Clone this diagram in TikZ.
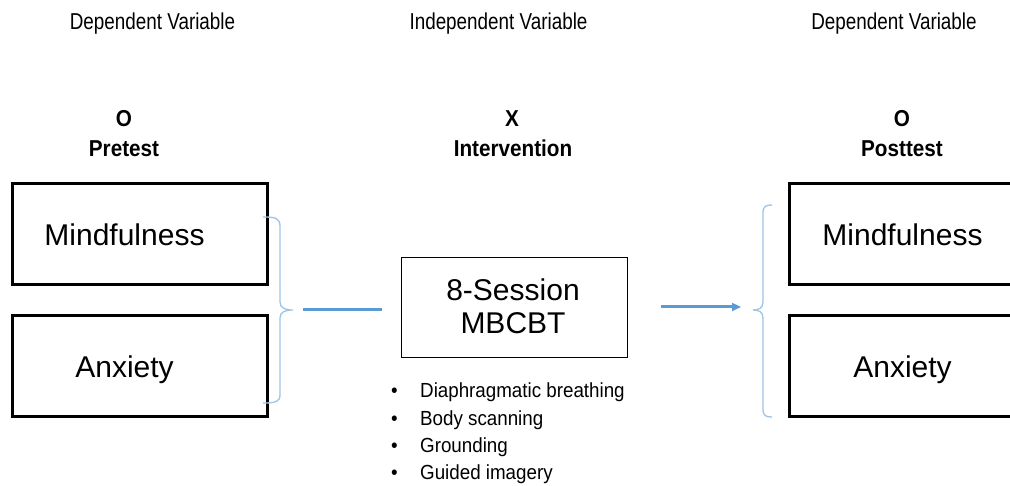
\documentclass[tikz,border=0pt]{standalone}
\usepackage{fontspec}
\setmainfont{Liberation Sans}
\newfontfamily\hdrfont[FakeStretch=0.82]{Liberation Sans}
\newfontfamily\bhdrfont[FakeStretch=0.9]{Liberation Sans}
\newfontfamily\itemfont[FakeStretch=0.92]{Liberation Sans}
\usetikzlibrary{arrows.meta}
\definecolor{lineblue}{HTML}{5B9BD5}
\definecolor{braceblue}{HTML}{9DC3E6}
\begin{document}
\begin{tikzpicture}[x=1pt,y=-1pt,
  hdr/.style={font=\hdrfont\fontsize{23}{26}\selectfont,inner sep=0,anchor=base},
  bhdr/.style={font=\bhdrfont\bfseries\fontsize{23}{26}\selectfont,inner sep=0,anchor=base},
  varbox/.style={draw=black,line width=3pt,minimum width=255pt,minimum height=101pt,inner sep=0},
  bigtxt/.style={font=\fontsize{30}{34}\selectfont,inner sep=0,anchor=base},
  midbox/.style={draw=black,line width=0.9pt,minimum width=226pt,minimum height=100pt,inner sep=0},
  item/.style={font=\itemfont\fontsize{20.4}{24}\selectfont,inner sep=0,anchor=base west},
  brace/.style={draw=braceblue,line width=1.3pt},
  conn/.style={draw=lineblue,line width=3pt},
]
\useasboundingbox (0,0) rectangle (1010,486);
\clip (0,0) rectangle (1010,486);
% headers
\node[hdr] (dv1) at (152.5,30) {Dependent Variable};
\node[hdr] (iv) at (498.5,30) {Independent Variable};
\node[hdr] (dv2) at (894,30) {Dependent Variable};
\node[bhdr] (o1) at (124,126.5) {O};
\node[bhdr] (pre) at (124,156.5) {Pretest};
\node[bhdr] (x) at (512,126.5) {X};
\node[bhdr] (int) at (513,156.5) {Intervention};
\node[bhdr] (o2) at (902,126.5) {O};
\node[bhdr] (post) at (902,156.5) {Posttest};
% left boxes
\node[varbox] (m1) at (139.5,234.5) {};
\node[bigtxt] (m1t) at (124.5,246) {Mindfulness};
\node[varbox] (a1) at (139.5,366.5) {};
\node[bigtxt] (a1t) at (124.5,377.5) {Anxiety};
% right boxes
\node[varbox] (m2) at (916.5,234.5) {};
\node[bigtxt] (m2t) at (902.5,246) {Mindfulness};
\node[varbox] (a2) at (916.5,366.5) {};
\node[bigtxt] (a2t) at (902.5,377.5) {Anxiety};
% middle box
\node[midbox] (mb) at (514,307) {};
\node[bigtxt] (mb1) at (513,301) {8-Session};
\node[bigtxt] (mb2) at (513,334) {MBCBT};
% bullet list
\foreach \t [count=\i] in {Diaphragmatic breathing,Body scanning,Grounding,Guided imagery}{
  \node[item] (b\i) at (391,398+27.3*\i-27.3) {\textbullet};
  \node[item] (t\i) at (420,398+27.3*\i-27.3) {\t};
}
% left brace
\path[brace] (263,217) .. controls (275,217) and (280,218) .. (280,226) -- (280,302)
  .. controls (280,308) and (285,310) .. (293,310)
  .. controls (285,310) and (280,312) .. (280,318) -- (280,395)
  .. controls (280,402) and (275,403) .. (263,403);
% right brace
\path[brace] (772,205) .. controls (766,205) and (763,206) .. (763,213) -- (763,302)
  .. controls (763,308) and (759,310) .. (753,310)
  .. controls (759,310) and (763,312) .. (763,318) -- (763,409)
  .. controls (763,416) and (766,417) .. (772,417);
% connectors
\coordinate (l1) at (303,310);
\coordinate (l2) at (382,310);
\coordinate (r1) at (661,307);
\coordinate (r2) at (741,307);
\path[conn] (l1) -- (l2);
\path[conn,-{Triangle[length=9pt,width=8pt]}] (r1) -- (r2);
\end{tikzpicture}
\end{document}
